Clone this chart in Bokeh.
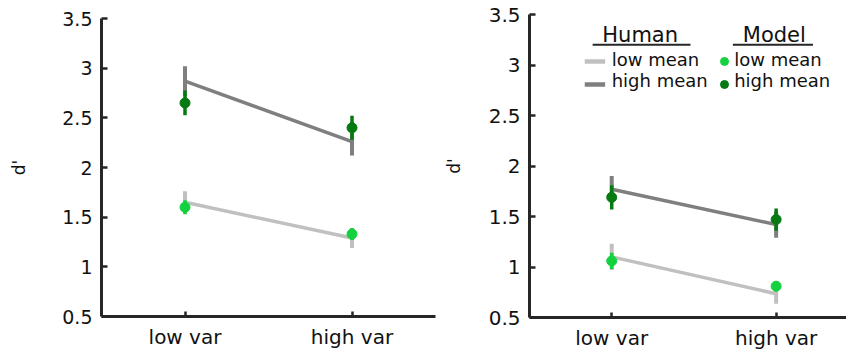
import numpy as np
from bokeh.plotting import figure
from bokeh.layouts import row, column
from bokeh.models import FixedTicker, Range1d, ColumnDataSource
from bokeh.core.properties import value
from bokeh.embed import file_html
from bokeh.resources import INLINE

# ---- data -------------------------------------------------------------
categories = ["low var", "high var"]
cat_x = [1, 2]
y_ticks = [0.5, 1.0, 1.5, 2.0, 2.5, 3.0, 3.5]
y_tick_labels = ["0.5", "1", "1.5", "2", "2.5", "3", "3.5"]

# left panel (d')
left_human_low = [1.65, 1.29]
left_human_low_err = [0.11, 0.10]
left_human_high = [2.87, 2.26]
left_human_high_err = [0.15, 0.14]
left_model_low = [1.60, 1.33]
left_model_low_err = [0.07, 0.06]
left_model_high = [2.65, 2.40]
left_model_high_err = [0.125, 0.12]

# right panel (d')
right_human_low = [1.10, 0.735]
right_human_low_err = [0.13, 0.10]
right_human_high = [1.77, 1.42]
right_human_high_err = [0.13, 0.13]
right_model_low = [1.06, 0.81]
right_model_low_err = [0.08, 0.05]
right_model_high = [1.69, 1.47]
right_model_high_err = [0.12, 0.11]

# ---- styling ----------------------------------------------------------
FONT = "DejaVu Sans"
AXIS_COLOR = "#262626"
TEXT_COLOR = "#111111"
HUMAN_LOW = "#c0c0c0"
HUMAN_HIGH = "#7f7f7f"
MODEL_LOW = "#14d23f"
MODEL_HIGH = "#047a10"


def style_axes(p, ytick_size, ylabel_standoff):
    p.xaxis.ticker = FixedTicker(ticks=cat_x)
    p.xaxis.major_label_overrides = {x: c for x, c in zip(cat_x, categories)}
    p.yaxis.ticker = FixedTicker(ticks=y_ticks)
    p.yaxis.major_label_overrides = {t: s for t, s in zip(y_ticks, y_tick_labels)}
    for ax in (p.xaxis, p.yaxis):
        ax.axis_line_color = AXIS_COLOR
        ax.axis_line_width = 3
        ax.major_tick_line_color = AXIS_COLOR
        ax.major_tick_line_width = 2.5
        ax.major_tick_in = 5
        ax.major_tick_out = 0
        ax.minor_tick_line_color = None
        ax.major_label_text_font = FONT
        ax.major_label_text_color = TEXT_COLOR
    p.xaxis.major_label_text_font_size = "20px"
    p.xaxis.major_label_standoff = 8
    p.yaxis.major_label_text_font_size = ytick_size
    p.yaxis.major_label_standoff = 9
    p.yaxis.major_tick_in = 6
    p.yaxis.axis_label = "d'"
    p.yaxis.axis_label_text_font = FONT
    p.yaxis.axis_label_text_font_style = "normal"
    p.yaxis.axis_label_text_font_size = "17px"
    p.yaxis.axis_label_text_color = TEXT_COLOR
    p.yaxis.axis_label_standoff = ylabel_standoff
    p.xgrid.grid_line_color = None
    p.ygrid.grid_line_color = None
    p.outline_line_color = None


def draw_series(p, hl, hl_e, hh, hh_e, ml, ml_e, mh, mh_e):
    x = np.array(cat_x, dtype=float)
    # human: lines with vertical error bars
    for m, e, c in ((hl, hl_e, HUMAN_LOW), (hh, hh_e, HUMAN_HIGH)):
        m = np.array(m); e = np.array(e)
        src = ColumnDataSource(dict(x=x, y=m, lo=m - e, hi=m + e))
        p.segment(x0="x", y0="lo", x1="x", y1="hi", source=src,
                  line_color=c, line_width=4)
        p.line(x="x", y="y", source=src, line_color=c, line_width=3.5)
    # model: dots with vertical error bars
    for m, e, c in ((ml, ml_e, MODEL_LOW), (mh, mh_e, MODEL_HIGH)):
        m = np.array(m); e = np.array(e)
        src = ColumnDataSource(dict(x=x, y=m, lo=m - e, hi=m + e))
        p.segment(x0="x", y0="lo", x1="x", y1="hi", source=src,
                  line_color=c, line_width=3.5)
        p.scatter(x="x", y="y", source=src, size=10,
                  fill_color=c, line_color=c)


def make_panel(width, b_left, b_right, b_top, b_bottom, x_end, ytick_size, ylabel_standoff):
    p = figure(width=width, height=353, output_backend="svg", toolbar_location=None,
               x_range=Range1d(0.5, x_end), y_range=Range1d(0.5, 3.5),
               min_border_left=b_left, min_border_right=b_right,
               min_border_top=b_top, min_border_bottom=b_bottom,
               background_fill_color="white", border_fill_color="white")
    style_axes(p, ytick_size, ylabel_standoff)
    return p


left = make_panel(440, 101, 5, 18, 37, 2.5, "19px", 30)
draw_series(left, left_human_low, left_human_low_err, left_human_high, left_human_high_err,
            left_model_low, left_model_low_err, left_model_high, left_model_high_err)

right = make_panel(406, 84, 0, 14, 36, 2.428, "20px", 22)
draw_series(right, right_human_low, right_human_low_err, right_human_high, right_human_high_err,
            right_model_low, right_model_low_err, right_model_high, right_model_high_err)

# ---- two-column legend (Human lines / Model dots) -----------------------
legend_rows = ["low mean", "high mean"]
row_text_y = [3.054, 2.843]
row_mark_y = [3.035, 2.807]
header_y = 3.295
rule_y = 3.20

right.text(x=[1.173, 1.989], y=[header_y, header_y], text=["Human", "Model"],
           text_font=value(FONT), text_font_size="21px", text_color=TEXT_COLOR,
           text_align="center", text_baseline="alphabetic")
right.segment(x0=[0.884, 1.737], y0=[rule_y, rule_y], x1=[1.479, 2.224], y1=[rule_y, rule_y],
              line_color=AXIS_COLOR, line_width=2)
right.segment(x0=[0.836, 0.836], y0=row_mark_y, x1=[0.960, 0.960], y1=row_mark_y,
              line_color=[HUMAN_LOW, HUMAN_HIGH], line_width=4.5)
right.scatter(x=[1.686, 1.686], y=row_mark_y, size=8,
              fill_color=[MODEL_LOW, MODEL_HIGH], line_color=[MODEL_LOW, MODEL_HIGH])
right.text(x=[1.0, 1.0, 1.745, 1.745], y=row_text_y + row_text_y,
           text=legend_rows + legend_rows,
           text_font=value(FONT), text_font_size="18px", text_color=TEXT_COLOR,
           text_align="left", text_baseline="alphabetic")

# nested so each panel keeps its own frame borders
layout = row(column(left), column(right))
open("out.html", "w").write(file_html(layout, INLINE))
